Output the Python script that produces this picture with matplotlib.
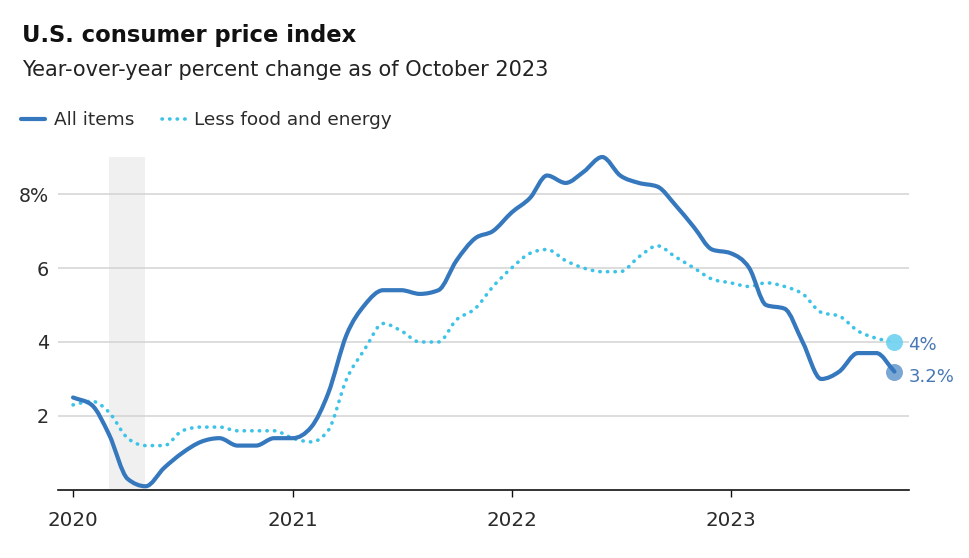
import matplotlib
matplotlib.use("Agg")
import matplotlib.pyplot as plt
import matplotlib.dates as mdates
from matplotlib.path import Path
from matplotlib.patches import PathPatch
from matplotlib.lines import Line2D
import numpy as np
import pandas as pd

plt.rcParams['font.family'] = ['DejaVu Sans']

months = pd.date_range("2020-01-01", "2023-10-01", freq="MS")
all_items = [2.5, 2.3, 1.5, 0.3, 0.1, 0.6, 1.0, 1.3, 1.4, 1.2, 1.2, 1.4,
             1.4, 1.7, 2.6, 4.2, 5.0, 5.4, 5.4, 5.3, 5.4, 6.2, 6.8, 7.0,
             7.5, 7.9, 8.5, 8.3, 8.6, 9.0, 8.5, 8.3, 8.2, 7.7, 7.1, 6.5,
             6.4, 6.0, 5.0, 4.9, 4.0, 3.0, 3.2, 3.7, 3.7, 3.2]
core = [2.3, 2.4, 2.1, 1.4, 1.2, 1.2, 1.6, 1.7, 1.7, 1.6, 1.6, 1.6,
        1.4, 1.3, 1.6, 3.0, 3.8, 4.5, 4.3, 4.0, 4.0, 4.6, 4.9, 5.5,
        6.0, 6.4, 6.5, 6.2, 6.0, 5.9, 5.9, 6.3, 6.6, 6.3, 6.0, 5.7,
        5.6, 5.5, 5.6, 5.5, 5.3, 4.8, 4.7, 4.3, 4.1, 4.0]
series_labels = ["All items", "Less food and energy"]
end_labels = ["3.2%", "4%"]
recession = ("2020-03-01", "2020-04-30")
yticks = [2, 4, 6, 8]
ytick_labels = ["2", "4", "6", "8%"]
xtick_years = ["2020", "2021", "2022", "2023"]

c_all = "#3578bd"
c_core = "#3ec3e8"
c_lab = "#4677b4"
c_text = "#2b2b2b"


def monotone_path(x, y):
    """Smooth monotone cubic (like d3.curveMonotoneX) through the data points."""
    x = np.asarray(x, float)
    y = np.asarray(y, float)
    n = len(x)
    h = np.diff(x)
    d = np.diff(y) / h
    m = np.zeros(n)
    for i in range(1, n - 1):
        if d[i - 1] * d[i] <= 0:
            m[i] = 0.0
        else:
            p = (d[i - 1] * h[i] + d[i] * h[i - 1]) / (h[i - 1] + h[i])
            m[i] = np.sign(d[i]) * min(abs(d[i - 1]), abs(d[i]), 0.5 * abs(p)) * 2
    m[0] = d[0]
    m[-1] = d[-1]
    verts = [(x[0], y[0])]
    codes = [Path.MOVETO]
    for i in range(n - 1):
        dx = h[i] / 3.0
        verts += [(x[i] + dx, y[i] + m[i] * dx),
                  (x[i + 1] - dx, y[i + 1] - m[i + 1] * dx),
                  (x[i + 1], y[i + 1])]
        codes += [Path.CURVE4] * 3
    return Path(verts, codes)


fig = plt.figure(figsize=(9.69, 5.58), dpi=100)
ax = fig.add_axes([0.0599, 0.1219, 0.878, 0.5967])

ax.axvspan(pd.Timestamp(recession[0]), pd.Timestamp(recession[1]),
           color="#f0f0f0", zorder=0, lw=0)

for y in yticks:
    ax.axhline(y, color="#d3d3d3", lw=1.1, zorder=1)

xnum = mdates.date2num(months)
p_core = PathPatch(monotone_path(xnum, core), fill=False, edgecolor=c_core,
                   lw=2.6, linestyle=(0, (0.1, 2.0)), capstyle="round",
                   zorder=3, clip_on=False)
p_all = PathPatch(monotone_path(xnum, all_items), fill=False, edgecolor=c_all,
                  lw=3.0, joinstyle="round", capstyle="round",
                  zorder=4, clip_on=False)
ax.add_patch(p_core)
ax.add_patch(p_all)

ax.scatter([months[-1]], [core[-1]], s=150, color="#6fd2f0", alpha=0.9,
           zorder=5, clip_on=False, lw=0)
ax.scatter([months[-1]], [all_items[-1]], s=150, color="#3578bd", alpha=0.65,
           zorder=5, clip_on=False, lw=0)
ax.annotate(end_labels[1], (months[-1], core[-1]), xytext=(10, -2),
            textcoords="offset points", va="center", ha="left",
            fontsize=13, color=c_lab, annotation_clip=False)
ax.annotate(end_labels[0], (months[-1], all_items[-1]), xytext=(10, -4),
            textcoords="offset points", va="center", ha="left",
            fontsize=13, color=c_lab, annotation_clip=False)

ax.set_ylim(0, 9.0)
ax.set_xlim(pd.Timestamp("2019-12-07"), pd.Timestamp("2023-10-25"))
ax.set_yticks(yticks)
ax.set_yticklabels(ytick_labels)
ax.set_xticks([pd.Timestamp(f"{y}-01-01") for y in xtick_years])
ax.set_xticklabels(xtick_years)

for s in ["top", "right", "left"]:
    ax.spines[s].set_visible(False)
ax.spines["bottom"].set_color("#111111")
ax.spines["bottom"].set_linewidth(1.2)
ax.tick_params(axis="y", length=0, pad=6.5, labelsize=13.8, labelcolor=c_text)
ax.tick_params(axis="x", length=5, width=1, color="#111111", pad=10,
               labelsize=14.3, labelcolor=c_text)

fig.text(0.0227, 0.9247, "U.S. consumer price index", fontsize=16.3,
         fontweight="bold", color="#111111", va="baseline", ha="left")
fig.text(0.0227, 0.8638, "Year-over-year percent change as of October 2023",
         fontsize=15, color="#222222", va="baseline", ha="left")

handles = [Line2D([], [], color=c_all, lw=3.0, solid_capstyle="round"),
           Line2D([], [], color=c_core, lw=2.6, linestyle=(0, (0.1, 2.0)),
                  dash_capstyle="round")]
leg = fig.legend(handles=handles, labels=series_labels,
                 loc="center left", bbox_to_anchor=(0.005, 0.785),
                 ncol=2, frameon=False, fontsize=13.3, handlelength=1.3,
                 columnspacing=1.5, handletextpad=0.45, labelcolor=c_text)

fig.savefig("out.png", dpi=100, facecolor="white")
